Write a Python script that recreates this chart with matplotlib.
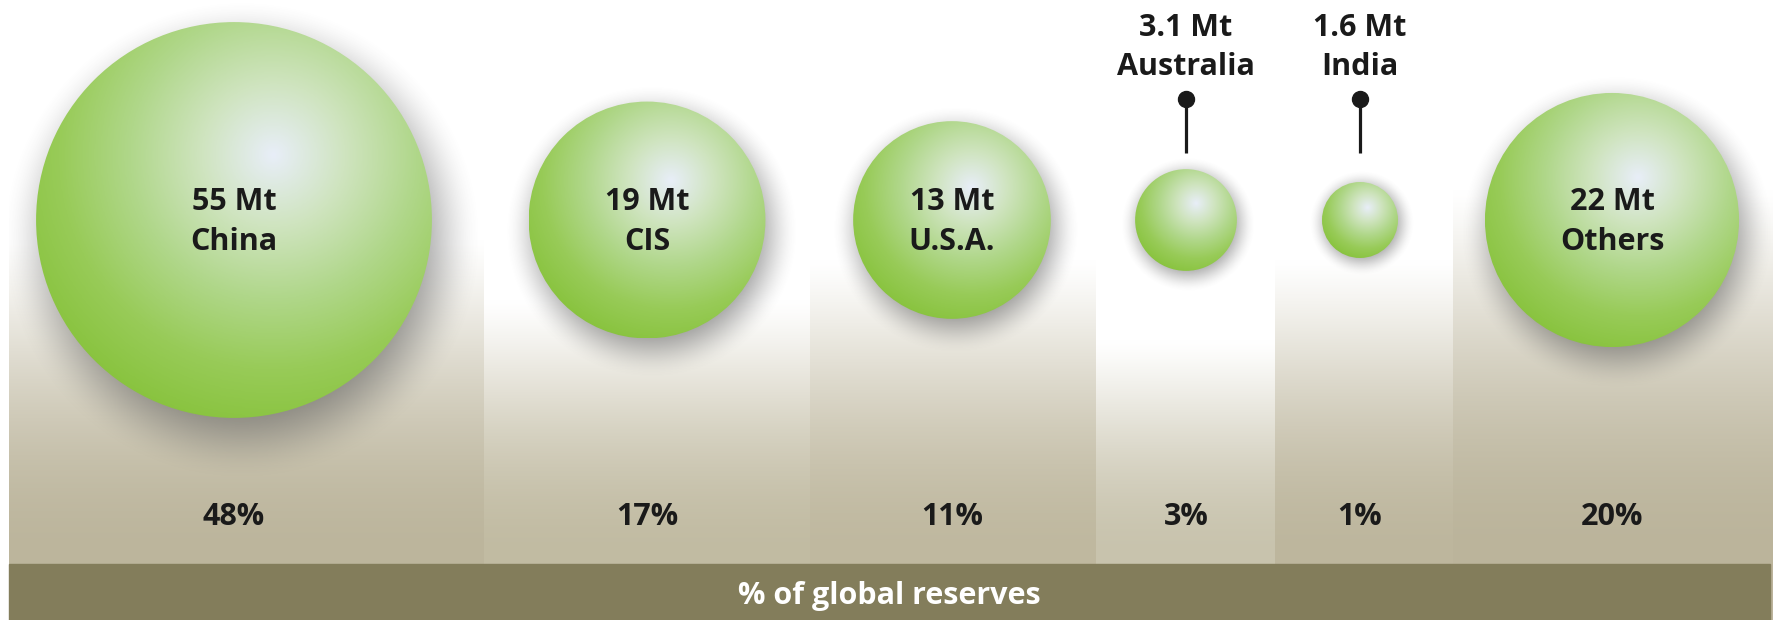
import numpy as np
import matplotlib.pyplot as plt
from matplotlib.colors import LinearSegmentedColormap, to_rgb
from matplotlib.patches import Circle, Rectangle

# data
regions = ["China", "CIS", "U.S.A.", "Australia", "India", "Others"]
reserves_mt = [55, 19, 13, 3.1, 1.6, 22]
reserve_labels = ["55 Mt", "19 Mt", "13 Mt", "3.1 Mt", "1.6 Mt", "22 Mt"]
share_pct = [48, 17, 11, 3, 1, 20]
label_outside = [False, False, False, True, True, False]
footer = "% of global reserves"

# layout in pixels (y grows downwards)
W, H = 1773, 620
col_edges = [9, 484, 810, 1096, 1275, 1453, 1773]
col_centers = [234, 647, 952, 1186, 1360, 1612]
fade_start = [240, 300, 260, 340, 260, 190]
bottom_tone = ["#bcb59c", "#c1bba2", "#bfb89f", "#c8c3ad", "#bdb69d", "#bbb49b"]
sphere_y = 220
bar_top = 564

plt.rcParams["font.family"] = ["Open Sans", "DejaVu Sans"]
txt = dict(fontsize=22, fontweight="bold", color="#1a1a1a", ha="center", va="baseline")

fig = plt.figure(figsize=(W / 100, H / 100), dpi=100)
ax = fig.add_axes([0, 0, 1, 1])
ax.set_xlim(0, W)
ax.set_ylim(H, 0)
ax.axis("off")

# column backgrounds: white fading into a khaki tone
rows = np.arange(H)[:, None]
for i in range(len(regions)):
    x0, x1 = col_edges[i], col_edges[i + 1]
    t = np.clip((rows - fade_start[i]) / (bar_top - fade_start[i]), 0, 1)
    t = np.sin(t * np.pi / 2) ** 1.2
    tone = np.array(to_rgb(bottom_tone[i]))
    grad = (1 - t)[..., None] * np.ones(3) + t[..., None] * tone
    ax.imshow(grad, extent=(x0, x1, H, 0), aspect="auto", zorder=0, interpolation="bilinear")

# sphere shading
sphere_cmap = LinearSegmentedColormap.from_list(
    "sphere", ["#e8eef8", "#cfe4bf", "#b0d78a", "#98cb58", "#86c23a"])
n = 300
u, v = np.meshgrid(np.linspace(-1, 1, n), np.linspace(-1, 1, n))
dist = np.clip(np.hypot(u - 0.2, v + 0.33) / 1.45, 0, 1)
sphere_img = sphere_cmap(dist)

# radius grows with the square root of the reserve
radii = [26.0 * np.sqrt(m) + 5.1 for m in reserves_mt]

for i, (cx, r) in enumerate(zip(col_centers, radii)):
    col_clip = Rectangle((col_edges[i], 0), col_edges[i + 1] - col_edges[i], bar_top,
                         transform=ax.transData, visible=False)
    ax.add_patch(col_clip)

    # soft drop shadow, kept inside its column
    blur = 0.18 * r + 8
    sx, sy = cx + 0.04 * r, sphere_y + 0.1 * r
    ext = r + 3 * blur
    gx, gy = np.meshgrid(np.linspace(-ext, ext, 240), np.linspace(-ext, ext, 240))
    d = np.hypot(gx, gy)
    a = np.clip((r + blur - d) / (2 * blur), 0, 1)
    a = a * a * (3 - 2 * a) * 0.6
    shadow = np.zeros((240, 240, 4))
    shadow[..., :3] = 0.33
    shadow[..., 3] = a
    im = ax.imshow(shadow, extent=(sx - ext, sx + ext, sy + ext, sy - ext),
                   aspect="auto", zorder=1, interpolation="bilinear")
    im.set_clip_path(col_clip)

    circ = Circle((cx, sphere_y), r, transform=ax.transData, visible=False)
    ax.add_patch(circ)
    im = ax.imshow(sphere_img, extent=(cx - r, cx + r, sphere_y + r, sphere_y - r),
                   aspect="auto", zorder=2, interpolation="bilinear")
    im.set_clip_path(circ)

    if label_outside[i]:
        ax.text(cx, 36, reserve_labels[i], zorder=4, **txt)
        ax.text(cx, 75, regions[i], zorder=4, **txt)
        ax.plot([cx, cx], [99, 153], color="#1a1a1a", lw=2.3, zorder=4,
                solid_capstyle="butt")
        ax.plot([cx], [99], "o", color="#1a1a1a", ms=11.5, zorder=4)
    else:
        ax.text(cx, sphere_y - 10, reserve_labels[i], zorder=4, **txt)
        ax.text(cx, sphere_y + 30, regions[i], zorder=4, **txt)

    ax.text(cx, 525, f"{share_pct[i]}%", zorder=4, **txt)

# footer bar
ax.add_patch(Rectangle((9, bar_top), 1770 - 9, H - bar_top, color="#837d5b", zorder=3))
ax.text((9 + 1770) / 2, 604, footer, fontsize=22, fontweight="bold", color="white",
        ha="center", va="baseline", zorder=4)

fig.savefig("out.png", dpi=100)
